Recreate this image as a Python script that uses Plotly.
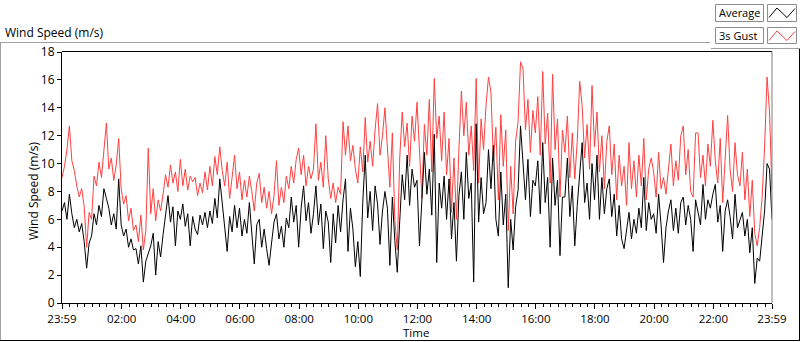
import pandas as pd
import plotly.graph_objects as go

# ---- data (5-minute samples, 23:59 -> 23:59) ----
gust = [
    9.0, 9.8, 11.0, 12.7, 10.2, 9.5,
    8.4, 7.6, 8.2, 6.9, 4.0, 6.5,
    6.0, 9.1, 8.4, 10.1, 9.0, 11.3,
    12.9, 9.6, 10.4, 8.8, 9.9, 11.8,
    8.2, 7.1, 7.7, 5.9, 6.8, 5.2,
    5.6, 4.4, 6.3, 3.8, 5.2, 11.1,
    6.4, 8.2, 5.9, 7.4, 6.6, 7.8,
    9.2, 8.3, 9.9, 8.6, 9.4, 8.0,
    10.3, 8.4, 9.6, 8.1, 9.1, 8.7,
    9.0, 7.7, 8.6, 7.9, 9.4, 8.1,
    9.8, 8.4, 10.5, 9.2, 11.2, 9.5,
    8.4, 10.1, 7.5, 9.0, 10.6, 8.2,
    9.4, 7.4, 8.8, 7.6, 9.1, 8.0,
    6.6, 8.6, 9.3, 7.2, 8.3, 6.8,
    8.0, 6.4, 7.7, 10.2, 7.0, 8.3,
    7.2, 9.1, 8.2, 9.8, 8.6, 10.3,
    11.1, 9.2, 10.6, 8.4, 9.8, 8.9,
    9.6, 12.85, 8.8, 10.1, 8.3, 12.0,
    8.9, 7.5, 8.6, 7.2, 8.3, 7.8,
    13.0, 10.6, 12.7, 10.2, 11.3, 9.6,
    8.6, 11.2, 9.4, 13.3, 10.1, 11.6,
    9.8, 12.4, 14.3, 10.6, 12.0, 14.0,
    11.5, 8.3, 12.2, 6.0, 3.8, 10.4,
    13.7, 11.2, 12.9, 9.8, 13.4, 11.6,
    14.4, 11.2, 7.5, 12.8, 10.6, 14.6,
    9.4, 16.1, 11.8, 13.4, 10.2, 13.7,
    9.2, 11.8, 6.5, 10.4, 6.0, 11.0,
    15.2, 12.0, 14.4, 10.6, 12.7, 9.5,
    16.1, 8.6, 13.2, 11.0, 14.2, 16.2,
    15.1, 10.2, 12.6, 7.4, 13.5, 9.8,
    12.4, 5.2, 9.8, 6.4, 11.6, 13.0,
    17.3, 16.8, 12.4, 14.6, 10.8, 13.8,
    12.2, 14.8, 10.6, 16.6, 11.4, 13.6,
    8.6, 16.4, 11.0, 13.2, 7.6, 12.4,
    10.8, 13.4, 9.0, 12.2, 8.9, 11.6,
    15.9, 14.1, 10.4, 12.8, 9.6, 15.6,
    11.2, 13.7, 9.4, 12.0, 8.2, 11.6,
    12.7, 9.2, 11.4, 7.4, 10.6, 8.4,
    9.8, 7.0, 11.5, 8.2, 10.2, 7.6,
    10.6, 8.4, 11.8, 7.4, 9.6, 10.4,
    9.4, 7.6, 10.8, 8.2, 9.0, 7.8,
    9.6, 11.4, 8.4, 10.2, 8.8, 12.0,
    12.7, 9.2, 11.0, 8.0, 7.6, 12.2,
    12.2, 9.0, 10.6, 8.4, 11.4, 9.8,
    13.1, 10.2, 8.6, 11.8, 7.2, 10.4,
    13.45, 9.6, 8.0, 11.5, 9.2, 8.4,
    10.8, 7.4, 9.6, 6.2, 8.8, 5.0,
    4.1, 5.4, 7.6, 11.2, 16.2, 13.7,
    8.0,
]

average = [
    6.6, 7.2, 6.0, 7.8, 6.4, 5.4,
    6.0, 5.1, 5.7, 4.4, 2.5, 4.3,
    4.8, 6.4, 5.6, 7.0, 6.2, 8.2,
    7.5, 6.8, 5.6, 6.4, 5.3, 8.9,
    5.6, 4.8, 5.3, 4.0, 4.6, 3.8,
    3.9, 2.8, 4.1, 1.5, 3.0, 3.6,
    4.1, 5.0, 2.0, 4.4, 3.3, 4.9,
    6.3, 7.7, 5.8, 6.9, 4.1, 6.6,
    6.0, 7.1, 5.5, 6.4, 4.1, 6.2,
    5.3, 4.9, 6.3, 5.6, 6.5, 5.4,
    6.6, 5.7, 7.5, 6.1, 8.9, 7.0,
    5.6, 3.7, 6.2, 5.1, 7.0, 5.4,
    6.8, 4.8, 6.0, 5.0, 7.2, 5.2,
    2.8, 5.6, 6.0, 4.0, 5.3, 3.9,
    2.7, 4.3, 5.8, 6.4, 4.6, 5.5,
    4.0, 6.1, 5.4, 7.6, 5.8, 7.0,
    4.0, 6.8, 8.4, 5.9, 7.2, 5.0,
    6.4, 8.4, 5.6, 7.1, 3.9, 6.6,
    5.8, 2.9, 6.4, 4.3, 7.0, 5.1,
    7.4, 8.9, 3.7, 6.8, 5.3, 2.6,
    4.4, 1.9, 7.2, 10.6, 6.1, 8.0,
    5.2, 8.4, 7.1, 4.2, 6.6, 8.0,
    6.8, 2.7, 7.6, 4.5, 2.2, 5.9,
    9.2, 7.4, 10.6, 7.0, 9.6, 8.3,
    8.8, 4.1, 7.4, 10.8, 7.8, 9.6,
    6.3, 12.1, 2.9, 8.6, 6.8, 9.1,
    6.0, 8.9, 4.6, 7.2, 3.0, 7.7,
    9.4, 6.0, 10.8, 7.5, 8.6, 1.5,
    12.85, 5.8, 9.0, 6.4, 7.2, 11.0,
    8.2, 11.3, 6.0, 4.8, 9.4, 5.6,
    7.8, 1.1, 6.0, 3.8, 6.9, 8.1,
    12.7, 9.6, 7.4, 10.3, 6.2, 8.8,
    8.4, 10.2, 6.4, 11.5, 7.2, 9.0,
    4.0, 10.4, 7.0, 8.8, 3.4, 7.6,
    7.6, 10.4, 6.2, 8.4, 4.1, 7.0,
    9.6, 11.5, 7.2, 8.6, 6.0, 10.0,
    7.4, 10.6, 6.0, 9.0, 6.4, 8.2,
    8.9, 6.2, 7.8, 4.8, 7.0, 4.6,
    3.9, 5.2, 6.5, 4.6, 6.0, 5.0,
    6.8, 5.4, 9.0, 5.2, 7.2, 6.0,
    6.4, 5.0, 7.8, 5.6, 2.9, 5.4,
    6.6, 7.4, 5.2, 6.8, 5.0, 7.2,
    7.6, 5.6, 7.0, 6.0, 3.7, 7.4,
    6.4, 5.6, 8.5, 6.0, 7.4, 6.8,
    7.8, 8.5, 5.8, 7.0, 3.7, 6.6,
    7.4, 6.2, 4.6, 7.8, 5.4, 6.0,
    6.5, 4.8, 6.0, 3.6, 5.4, 1.4,
    3.2, 3.0, 4.8, 6.6, 10.0, 9.6,
    6.0,
]

tick_times = ["2020-01-01 23:59", "2020-01-02 02:00", "2020-01-02 04:00", "2020-01-02 06:00",
              "2020-01-02 08:00", "2020-01-02 10:00", "2020-01-02 12:00", "2020-01-02 14:00",
              "2020-01-02 16:00", "2020-01-02 18:00", "2020-01-02 20:00", "2020-01-02 22:00",
              "2020-01-02 23:59"]
tick_labels = ["23:59", "02:00", "04:00", "06:00", "08:00", "10:00", "12:00", "14:00",
               "16:00", "18:00", "20:00", "22:00", "23:59"]
y_ticks = [0, 2, 4, 6, 8, 10, 12, 14, 16, 18]

times = pd.date_range("2020-01-01 23:59", periods=len(gust), freq="5min")

# ---- geometry ----
W, H = 800, 342
L, R, T, B = 62, 772, 52, 303
FONT = "Open Sans"


def px(x):
    return (x - L) / (R - L)


def py(y):
    return (B - y) / (B - T)


fig = go.Figure()
fig.add_trace(go.Scatter(x=times, y=gust, mode="lines", name="3s Gust",
                         line=dict(color="#ff4040", width=1), showlegend=False))
fig.add_trace(go.Scatter(x=times, y=average, mode="lines", name="Average",
                         line=dict(color="#000000", width=1), showlegend=False))

shapes = []


def seg(x0, y0, x1, y1, color, width=1):
    shapes.append(dict(type="line", xref="paper", yref="paper",
                       x0=px(x0), y0=py(y0), x1=px(x1), y1=py(y1),
                       line=dict(color=color, width=width), layer="above"))


def rect(x0, y0, x1, y1, color):
    shapes.append(dict(type="rect", xref="paper", yref="paper",
                       x0=px(x0), y0=py(y0), x1=px(x1), y1=py(y1),
                       line=dict(color=color, width=1), fillcolor="white", layer="above"))


def zig(pts, color):
    d = "M " + " L ".join(f"{px(x):.5f},{py(y):.5f}" for x, y in pts)
    shapes.append(dict(type="path", xref="paper", yref="paper", path=d,
                       line=dict(color=color, width=1), layer="above"))


# outer frame
seg(0, 42.5, 710, 42.5, "#a0a0a0")
seg(0.5, 42.5, 0.5, 341, "#a0a0a0")
seg(0, 340.5, 800, 340.5, "#000000")
seg(799.5, 48, 799.5, 341, "#000000")
seg(711, 48.5, 800, 48.5, "#a0a0a0")
# plot frame top / right
seg(62, 51.5, 772, 51.5, "#000000")
seg(772, 51.5, 772, 303, "#808080")

# legend
rect(715.5, 4.5, 763.5, 21.5, "#8c8c8c")
rect(767.5, 4.5, 796.5, 21.5, "#8c8c8c")
rect(715.5, 27.5, 763.5, 43.5, "#8c8c8c")
rect(767.5, 27.5, 796.5, 43.5, "#8c8c8c")
zig([(769, 17.5), (777, 8), (787, 17.5), (795, 8.5)], "#000000")
zig([(769, 40.5), (777, 31), (787, 40.5), (795, 31.5)], "#ff4040")

annotations = [
    dict(text="Average", x=px(717), y=py(13), xanchor="left", yanchor="middle", fs=11),
    dict(text="3s Gust", x=px(717), y=py(35.5), xanchor="left", yanchor="middle", fs=11),
    dict(text="Wind Speed (m/s)", x=px(3), y=py(32), xanchor="left", yanchor="middle", fs=12),
    dict(text="Wind Speed (m/s)", x=px(33), y=py(191), xanchor="center", yanchor="middle",
         textangle=-90, fs=12),
    dict(text="Time", x=px(416), y=py(332.5), xanchor="center", yanchor="middle", fs=11.5),
]
for a in annotations:
    fs = a.pop("fs")
    a.update(xref="paper", yref="paper", showarrow=False,
             font=dict(family=FONT, size=fs, color="#000000"))

fig.update_layout(
    width=W, height=H,
    margin=dict(l=L, r=W - R, t=T, b=H - B, pad=0),
    paper_bgcolor="white", plot_bgcolor="white",
    font=dict(family=FONT, size=12, color="#000000"),
    shapes=shapes, annotations=annotations,
    showlegend=False,
    xaxis=dict(type="date", range=[tick_times[0], tick_times[-1]],
               tickmode="array", tickvals=tick_times, ticktext=tick_labels,
               ticks="outside", ticklen=5, tickwidth=1, tickcolor="#000000",
               showline=True, linecolor="#000000", linewidth=1,
               showgrid=False, zeroline=False,
               tickfont=dict(family=FONT, size=11.5, color="#000000"),
               minor=dict(tickmode="linear", tick0="2020-01-02 00:00", dtick=15 * 60 * 1000,
                          ticks="outside", ticklen=3, tickcolor="#000000", showgrid=False)),
    yaxis=dict(range=[0, 18], tickmode="array", tickvals=y_ticks,
               ticks="outside", ticklen=4, tickwidth=1, tickcolor="#000000",
               showline=True, linecolor="#000000", linewidth=1,
               showgrid=False, zeroline=False,
               tickfont=dict(family=FONT, size=12, color="#000000")),
)

fig.write_html("out.html", config={"displayModeBar": False},
               post_script="document.body.style.margin='0px';document.body.style.overflow='hidden';")
